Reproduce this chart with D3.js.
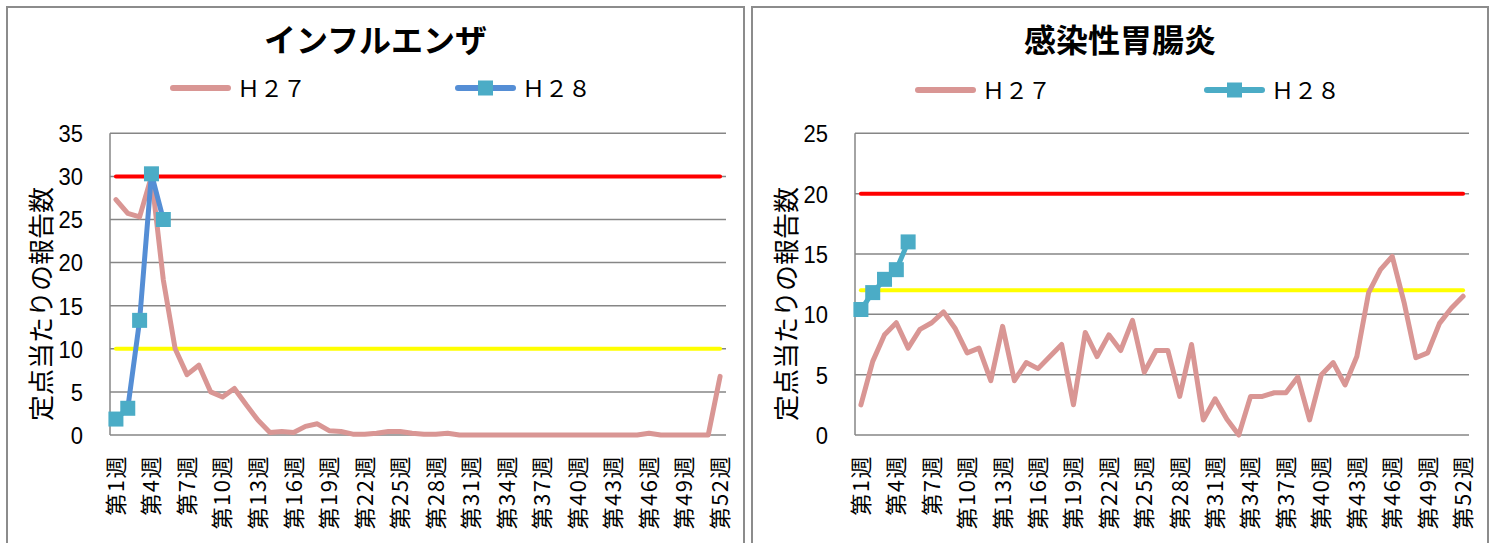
<!DOCTYPE html>
<html>
<head>
<meta charset="utf-8">
<script src="https://cdn.jsdelivr.net/npm/d3@7"></script>
<style>
  body { margin: 0; background: #fff; }
  svg { display: block; }
  text { font-family: "Noto Sans CJK JP", sans-serif; fill: #000; }
  .tick-num { font-family: "Liberation Sans", Arial, sans-serif; }
</style>
</head>
<body>
<div id="chart-area"></div>
<script>
// week categories
const weeks = d3.range(1, 53).map(i => `第${i}週`)
const weekTicks = d3.range(1, 53, 3).map(i => `第${i}週`)

// インフルエンザ
const fluTitle = 'インフルエンザ'
const fluH27 = [27.3,25.7,25.3,30.0,18.0,10.0,7.0,8.1,5.0,4.4,5.4,3.5,1.7,0.3,0.4,0.3,1.0,1.3,0.5,0.4,
  0.1,0.1,0.2,0.4,0.4,0.2,0.1,0.1,0.2,0,0,0,0,0,0,0,0,0,0,0,0,0,0,0,0,0.2,0,0,0,0,0,6.8]
const fluH28 = [1.85,3.1,13.3,30.3,25.0]
const fluYTicks = [0,5,10,15,20,25,30,35]
const fluWarn = 30   // 警報レベル
const fluAlert = 10  // 注意報レベル

// 感染性胃腸炎
const gastroTitle = '感染性胃腸炎'
const gastroH27 = [2.5,6.1,8.3,9.3,7.2,8.75,9.3,10.2,8.8,6.8,7.2,4.5,9.0,4.5,6.0,5.5,6.5,7.5,2.5,8.5,
  6.5,8.3,7.0,9.5,5.2,7.0,7.0,3.2,7.5,1.25,3.0,1.3,0.0,3.2,3.2,3.5,3.5,4.8,1.25,5.0,
  6.0,4.15,6.5,11.8,13.7,14.8,11.0,6.4,6.8,9.25,10.5,11.5]
const gastroH28 = [10.4,11.8,12.9,13.7,16.0]
const gastroYTicks = [0,5,10,15,20,25]
const gastroWarn = 20
const gastroAlert = 12

const seriesNames = ['Ｈ２７','Ｈ２８']

const WIDTH = 1494
const HEIGHT = 543

const svg = d3.select('#chart-area')
  .append('svg')
  .attr('width', WIDTH)
  .attr('height', HEIGHT)

function drawPanel(p) {
  const g = svg.append('g')

  // panel frame
  g.append('rect')
    .attr('x', p.frame[0])
    .attr('y', 7)
    .attr('width', p.frame[1] - p.frame[0])
    .attr('height', 600)
    .attr('fill', '#fff')
    .attr('stroke', '#8c8c8c')
    .attr('stroke-width', 2)

  g.append('text')
    .attr('x', (p.frame[0] + p.frame[1]) / 2)
    .attr('y', 52)
    .attr('text-anchor', 'middle')
    .style('font-size', '32px')
    .style('font-weight', 'bold')
    .text(p.title)

  const x = d3.scaleBand()
    .domain(weeks)
    .range([p.left, p.right])

  const y = d3.scaleLinear()
    .domain([0, d3.max(p.yTicks)])
    .range([435, 133.3])

  const cx = d => x(d) + x.bandwidth() / 2

  // gridlines
  g.append('g')
    .selectAll('line')
    .data(p.yTicks)
    .enter().append('line')
    .attr('x1', p.left)
    .attr('x2', p.right)
    .attr('y1', d => y(d))
    .attr('y2', d => y(d))
    .attr('stroke', '#868686')
    .attr('stroke-width', 1.5)

  g.append('line')
    .attr('x1', p.left)
    .attr('x2', p.left)
    .attr('y1', y(d3.max(p.yTicks)))
    .attr('y2', y(0))
    .attr('stroke', '#868686')
    .attr('stroke-width', 1.5)

  // y tick labels
  g.append('g')
    .selectAll('text')
    .data(p.yTicks)
    .enter().append('text')
    .attr('class', 'tick-num')
    .attr('transform', d => `translate(${p.left - 27},${y(d)}) scale(1,1.12)`)
    .attr('dy', '0.36em')
    .attr('text-anchor', 'end')
    .style('font-size', '22px')
    .text(d => d)

  // x tick labels
  g.append('g')
    .selectAll('text')
    .data(weekTicks)
    .enter().append('text')
    .attr('transform', d => `translate(${cx(d)},455) rotate(-90)`)
    .attr('dy', '0.36em')
    .attr('text-anchor', 'end')
    .style('font-size', '22px')
    .style('letter-spacing', '1.5px')
    .text(d => d)

  // y axis title
  g.append('text')
    .attr('transform', `translate(${p.left - 68},304) rotate(-90)`)
    .attr('text-anchor', 'middle')
    .attr('dy', '0.36em')
    .style('font-size', '26px')
    .text('定点当たりの報告数')

  // warning / alert levels
  const levels = [[p.warn, '#ff0000'], [p.alert, '#ffff00']]
  levels.forEach(([v, c]) => {
    g.append('line')
      .attr('x1', cx(weeks[0]))
      .attr('x2', cx(weeks[weeks.length - 1]))
      .attr('y1', y(v))
      .attr('y2', y(v))
      .attr('stroke', c)
      .attr('stroke-width', 4)
      .attr('stroke-linecap', 'round')
  })

  const line = d3.line()
    .x((d, i) => cx(weeks[i]))
    .y(d => y(d))

  g.append('path')
    .datum(p.h27)
    .attr('d', line)
    .attr('fill', 'none')
    .attr('stroke', '#d99694')
    .attr('stroke-width', 5)
    .attr('stroke-linejoin', 'round')
    .attr('stroke-linecap', 'round')

  g.append('path')
    .datum(p.h28)
    .attr('d', line)
    .attr('fill', 'none')
    .attr('stroke', p.h28Line)
    .attr('stroke-width', 5)
    .attr('stroke-linejoin', 'round')

  g.append('g')
    .selectAll('rect')
    .data(p.h28)
    .enter().append('rect')
    .attr('x', (d, i) => cx(weeks[i]) - 7.5)
    .attr('y', d => y(d) - 7.5)
    .attr('width', 15)
    .attr('height', 15)
    .attr('fill', '#4bacc6')

  // legend
  const leg = g.append('g')
  leg.append('line')
    .attr('x1', p.leg[0]).attr('x2', p.leg[0] + 55)
    .attr('y1', p.legY).attr('y2', p.legY)
    .attr('stroke', '#d99694')
    .attr('stroke-width', 6)
    .attr('stroke-linecap', 'round')
  leg.append('text')
    .attr('x', p.leg[0] + 64)
    .attr('y', p.legY)
    .attr('dy', '0.38em')
    .style('font-size', '23px')
    .text(seriesNames[0])

  leg.append('line')
    .attr('x1', p.leg[1]).attr('x2', p.leg[1] + 55)
    .attr('y1', p.legY).attr('y2', p.legY)
    .attr('stroke', p.h28Line)
    .attr('stroke-width', 6)
    .attr('stroke-linecap', 'round')
  leg.append('rect')
    .attr('x', p.leg[1] + 27.5 - 7.5)
    .attr('y', p.legY - 7.5)
    .attr('width', 15)
    .attr('height', 15)
    .attr('fill', '#4bacc6')
  leg.append('text')
    .attr('x', p.leg[1] + 64)
    .attr('y', p.legY)
    .attr('dy', '0.38em')
    .style('font-size', '23px')
    .text(seriesNames[1])
}

drawPanel({
  title: fluTitle, h27: fluH27, h28: fluH28, yTicks: fluYTicks,
  warn: fluWarn, alert: fluAlert,
  frame: [7, 744], left: 110, right: 726,
  leg: [173, 458], legY: 88, h28Line: '#558ed5'
})

drawPanel({
  title: gastroTitle, h27: gastroH27, h28: gastroH28, yTicks: gastroYTicks,
  warn: gastroWarn, alert: gastroAlert,
  frame: [752, 1488], left: 855, right: 1469,
  leg: [918, 1207], legY: 90, h28Line: '#4bacc6'
})
</script>
</body>
</html>
